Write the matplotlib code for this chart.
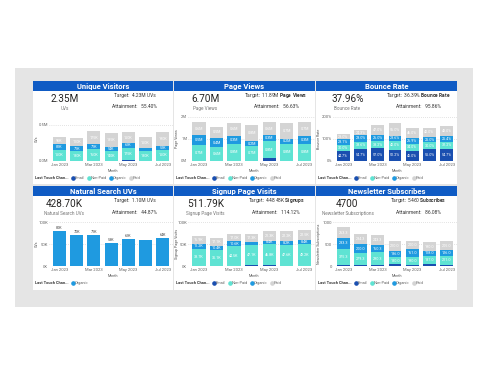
import matplotlib.pyplot as plt
from matplotlib.patches import Rectangle
from matplotlib.lines import Line2D

plt.rcParams['font.family'] = ['Roboto', 'DejaVu Sans']
plt.rcParams['mathtext.fontset'] = 'custom'
plt.rcParams['mathtext.rm'] = 'Roboto'
plt.rcParams['mathtext.bf'] = 'Roboto:bold'

months = ["Jan 2023", "Feb 2023", "Mar 2023", "Apr 2023", "May 2023", "Jun 2023", "Jul 2023"]
channels = ["Email", "Non-Paid", "Organic", "Paid"]

# Unique Visitors (K)
uv_email = [3, 3, 5, 5, 12, 4, 5]
uv_nonpaid = [150, 130, 160, 140, 175, 130, 150]
uv_organic = [81, 71, 71, 54, 61, 45, 52]
uv_paid = [95, 110, 175, 185, 150, 150, 190]

# Page Views (M)
pv_email = [0.02, 0.02, 0.02, 0.02, 0.12, 0.02, 0.02]
pv_nonpaid = [0.71, 0.62, 0.77, 0.66, 0.77, 0.77, 0.77]
pv_organic = [0.45, 0.40, 0.35, 0.22, 0.28, 0.22, 0.35]
pv_paid = [0.57, 0.52, 0.60, 0.75, 0.60, 0.71, 0.65]

# Bounce Rate (%)
br_email = [44.7, 54.7, 57.0, 51.2, 45.0, 55.0, 54.7]
br_nonpaid = [30.0, 33.6, 33.2, 40.0, 34.0, 30.0, 32.2]
br_organic = [23.1, 28.0, 26.0, 23.6, 26.9, 25.0, 25.4]
br_paid = [23.0, 24.3, 47.0, 56.0, 46.0, 40.0, 48.0]

# Natural Search UVs (K)
ns_organic = [80, 70, 71, 53, 61, 59, 64]
ns_labels = ["80K", "70K", "71K", "53K", "61K", "", "64K"]

# Signup Page Visits (K)
su_email = [1.0, 1.0, 1.0, 1.5, 2.5, 1.0, 1.0]
su_nonpaid = [38.7, 35.1, 44.5, 47.1, 46.8, 47.6, 49.2]
su_organic = [11.2, 10.4, 10.6, 6.0, 8.4, 8.2, 8.4]
su_paid = [16.9, 17.1, 17.0, 17.3, 21.3, 22.2, 22.5]

# Newsletter Subscribes
nl_email = [20, 15, 20, 35, 25, 40, 25]
nl_nonpaid = [375.3, 279.3, 290.3, 180.0, 190.0, 187.0, 211.0]
nl_organic = [233.3, 200.0, 160.3, 136.0, 161.0, 118.0, 126.0]
nl_paid = [263.3, 234.3, 243.3, 210.0, 200.0, 190.0, 205.0]

colors = {"Email": "#1a4fb0", "Non-Paid": "#5fe3d3", "Organic": "#1f9ae0", "Paid": "#d4d4d4"}
title_blue = "#0f5bc4"

charts = [
    dict(title="Unique Visitors", value="2.35M", unit="UVs", target=r"Target:  4.23M UVs",
         attain="Attainment:   55.40%", ylabel="UVs",
         series=[uv_email, uv_nonpaid, uv_organic, uv_paid], names=channels,
         ymax=611, ticks=[0, 500], ticklabels=["0.0M", "0.5M"], fmt="{:.0f}K"),
    dict(title="Page Views", value="6.70M", unit="Page Views", target=r"Target:  11.89M $\bf{Page\ Views}$",
         attain="Attainment:   56.63%", ylabel="Page Views",
         series=[pv_email, pv_nonpaid, pv_organic, pv_paid], names=channels,
         ymax=2, ticks=[0, 1, 2], ticklabels=["0M", "1M", "2M"], fmt="{:.1f}M"),
    dict(title="Bounce Rate", value="37.96%", unit="Bounce Rate", target=r"Target:  36.39% $\bf{Bounce\ Rate}$",
         attain="Attainment:   95.86%", ylabel="Bounce Rate",
         series=[br_email, br_nonpaid, br_organic, br_paid], names=channels,
         ymax=200, ticks=[0, 100, 200], ticklabels=["0%", "100%", "200%"], fmt="{:.1f}%"),
    dict(title="Natural Search UVs", value="428.70K", unit="Natural Search UVs", target=r"Target:  1.10M UVs",
         attain="Attainment:   44.87%", ylabel="UVs",
         series=[ns_organic], names=["Organic"],
         ymax=100, ticks=[0, 50, 100], ticklabels=["0K", "50K", "100K"], fmt=None),
    dict(title="Signup Page Visits", value="511.79K", unit="Signup Page Visits", target=r"Target:  448.48K $\bf{Signups}$",
         attain="Attainment:   114.12%", ylabel="Signup Page Visits",
         series=[su_email, su_nonpaid, su_organic, su_paid], names=channels,
         ymax=100, ticks=[0, 50, 100], ticklabels=["0K", "50K", "100K"], fmt="{:.1f}K"),
    dict(title="Newsletter Subscribes", value="4700", unit="Newsletter Subscriptions", target=r"Target:  5460 $\bf{Subscribes}$",
         attain="Attainment:   86.08%", ylabel="Newsletter Subscriptions",
         series=[nl_email, nl_nonpaid, nl_organic, nl_paid], names=channels,
         ymax=1000, ticks=[0, 500, 1000], ticklabels=["0", "500", "1000"], fmt="{:.1f}"),
]

W, H = 490, 384
fig = plt.figure(figsize=(4.9, 3.84), dpi=100)


def box(x0, y0, x1, y1):
    return [x0 / W, 1 - y1 / H, (x1 - x0) / W, (y1 - y0) / H]


def rect(x0, y0, x1, y1, color):
    l, b, w, h = box(x0, y0, x1, y1)
    fig.add_artist(Rectangle((l, b), w, h, transform=fig.transFigure, color=color, lw=0, zorder=0))


def ftext(x, y, s, **kw):
    return fig.text(x / W, 1 - y / H, s, **kw)


rect(15, 68, 473, 307, "#e5e5e5")

cols = [(33, 173), (174, 315), (316, 457)]
axx = [(48.8, 173), (188, 315), (332.6, 457)]
title_tops = [81, 186]
panel_bottoms = [184, 290]

for k, ch in enumerate(charts):
    r, c = divmod(k, 3)
    px0, px1 = cols[c]
    ty = title_tops[r]
    dy = ty - 81
    rect(px0, ty, px1, ty + 10, title_blue)
    rect(px0, ty + 10, px1, panel_bottoms[r], "white")
    ftext((px0 + px1) / 2, ty + 5.2, ch["title"], ha="center", va="center",
          color="white", fontsize=5.5, fontweight="bold")

    # header card
    ftext(px0 + 31.5, 98.7 + dy, ch["value"], ha="center", va="center", fontsize=7.2, color="#252423")
    ftext(px0 + 31.5, 108.7 + dy, ch["unit"], ha="center", va="center", fontsize=3.3, color="#777777")
    ftext(px0 + 102, 95.3 + dy, ch["target"], ha="center", va="center", fontsize=3.5, color="#333333")
    ftext(px0 + 102, 107 + dy, ch["attain"], ha="center", va="center", fontsize=3.5, color="#333333")

    # chart
    ax = fig.add_axes(box(axx[c][0], 117 + dy, axx[c][1], 161 + dy))
    ax.set_facecolor("none")
    x = list(range(len(months)))
    bottom = [0] * len(months)
    lab_min = 0.08 * ch["ymax"]
    for name, vals in zip(ch["names"], ch["series"]):
        ax.bar(x, vals, width=0.75, bottom=bottom, color=colors[name], zorder=2)
        if ch["fmt"] is not None:
            for i, v in enumerate(vals):
                if v >= lab_min:
                    ax.text(i, bottom[i] + v / 2, ch["fmt"].format(v), ha="center", va="center",
                            fontsize=2.7, color="white", zorder=3)
        bottom = [b + v for b, v in zip(bottom, vals)]
    if ch["fmt"] is None:
        for i, v in enumerate(ch["series"][0]):
            ax.text(i, v + 2, ns_labels[i], ha="center", va="bottom", fontsize=2.7, color="#444444")

    ax.set_xlim(-0.62, 6.6)
    ax.set_ylim(0, ch["ymax"])
    ax.set_yticks(ch["ticks"])
    ax.set_yticklabels(ch["ticklabels"])
    ax.set_xticks([0, 2, 4, 6])
    ax.set_xticklabels([months[i] for i in [0, 2, 4, 6]])
    ax.tick_params(length=0, labelsize=3.0, labelcolor="#666666")
    ax.tick_params(axis="x", pad=1.3)
    ax.tick_params(axis="y", pad=0.6)
    for t in ch["ticks"]:
        ax.axhline(t, color="#c8c8c8", lw=0.5, ls=(0, (1, 2)), zorder=1)
    for s in ax.spines.values():
        s.set_visible(False)

    ftext(px0 + 3.3, 139 + dy, ch["ylabel"], ha="center", va="center", rotation=90,
          fontsize=2.6, color="#555555")
    ftext((axx[c][0] + axx[c][1]) / 2 + 2, 170.7 + dy, "Month", ha="center", va="center",
          fontsize=2.6, color="#555555")

    # legend
    ly = 177.8 + dy
    ftext(px0 + 2, ly, "Last Touch Chan...", ha="left", va="center", fontsize=2.9,
          fontweight="bold", color="#333333")
    offs = [40, 55.5, 78, 98]
    for j, name in enumerate(ch["names"]):
        mx = px0 + offs[j]
        fig.add_artist(Line2D([mx / W], [1 - ly / H], marker="o", markersize=2.3, ls="none",
                              color=colors[name], transform=fig.transFigure))
        ftext(mx + 1.8, ly, name, ha="left", va="center", fontsize=2.9, color="#666666")

fig.savefig("out.png", dpi=100, facecolor="white")
